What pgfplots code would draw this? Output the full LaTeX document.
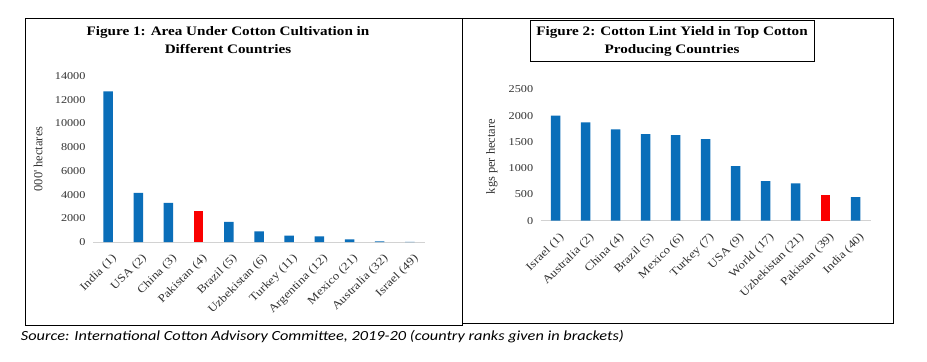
\documentclass[border=0pt]{standalone}
\usepackage{pgfplots}
\pgfplotsset{compat=1.18}
\usepackage{fontspec}
\setmainfont[FakeStretch=1.17]{Liberation Serif}
\newfontfamily\plainserif{Liberation Serif}
\newfontfamily\srcfont[FakeStretch=1.17]{Carlito}
\definecolor{barblue}{RGB}{10,110,185}
\definecolor{barred}{RGB}{250,0,0}
\begin{document}
\begin{tikzpicture}
\useasboundingbox (0,0) rectangle (927bp,-362bp);
\fill[white] (0,0) rectangle (927bp,-362bp);
\pgfplotsset{cot/.style={
  scale only axis, ybar, bar width=9.5bp,
  xmin=-0.5, xmax=10.5, ymin=0,
  xtick={0,...,10},
  axis x line*=bottom, axis y line*=left,
  y axis line style={draw=none},
  x axis line style={draw=gray!35, line width=0.8bp},
  major tick length=0pt,
  scaled y ticks=false,
  /pgf/number format/1000 sep={},
  /pgf/number format/assume math mode=true,
  tick label style={font=\fontsize{10.5}{12}\selectfont, text=black!80},
  xticklabel style={font=\fontsize{11.3}{12}\selectfont, xshift=3bp, yshift=-11bp, rotate=45, anchor=north east, inner sep=0pt},
  yticklabel style={xshift=-4bp},
  clip=false,
}}
\begin{axis}[cot, at={(93bp,-242bp)}, anchor=south west,
  width=332bp, height=166bp, ymax=14000, ytick={0,2000,...,14000},
  xticklabels={India (1),USA (2),China (3),Pakistan (4),Brazil (5),Uzbekistan (6),Turkey (11),Argentina (12),Mexico (21),Australia (32),Israel (49)}]
\addplot[fill=barblue, draw=none, bar shift=0pt] coordinates {(0,12700) (1,4150) (2,3300) (4,1700) (5,900) (6,540) (7,480) (8,220) (9,60) (10,15)};
\addplot[fill=barred, draw=none, bar shift=0pt] coordinates {(3,2600)};
\end{axis}
\begin{axis}[cot, at={(540.7bp,-220.7bp)}, anchor=south west,
  width=330bp, height=131.4bp, ymax=2500, ytick={0,500,...,2500},
  xticklabels={Israel (1),Australia (2),China (4),Brazil (5),Mexico (6),Turkey (7),USA (9),World (17),Uzbekistan (21),Pakistan (39),India (40)}]
\addplot[fill=barblue, draw=none, bar shift=0pt] coordinates {(0,2000) (1,1870) (2,1740) (3,1645) (4,1630) (5,1550) (6,1040) (7,755) (8,710) (10,450)};
\addplot[fill=barred, draw=none, bar shift=0pt] coordinates {(9,490)};
\end{axis}
\node[rotate=90, font=\plainserif\fontsize{12.5}{13}\selectfont, text=black!80] at (38bp,-159bp) {000' hectares};
\node[rotate=90, font=\plainserif\fontsize{12.5}{13}\selectfont, text=black!80] at (492bp,-156.5bp) {kgs per hectare};
\draw[line width=1bp] (25bp,-18bp) rectangle (462bp,-325bp);
\draw[line width=1bp] (462bp,-18bp) rectangle (893bp,-323bp);
\node[align=center, font=\bfseries\fontsize{13}{18}\selectfont] at (228bp,-40bp) {Figure 1: Area Under Cotton Cultivation in\\Different Countries};
\node[draw, line width=1bp, minimum width=284bp, minimum height=41bp, inner sep=0pt, align=center, font=\bfseries\fontsize{13}{18}\selectfont] at (672bp,-41.2bp) {Figure 2: Cotton Lint Yield in Top Cotton\\Producing Countries};
\node[anchor=base west, inner sep=0pt, font=\srcfont\itshape\fontsize{14}{15}\selectfont] at (20.7bp,-340.7bp) {Source: International Cotton Advisory Committee, 2019-20 (country ranks given in brackets)};
\end{tikzpicture}
\end{document}
